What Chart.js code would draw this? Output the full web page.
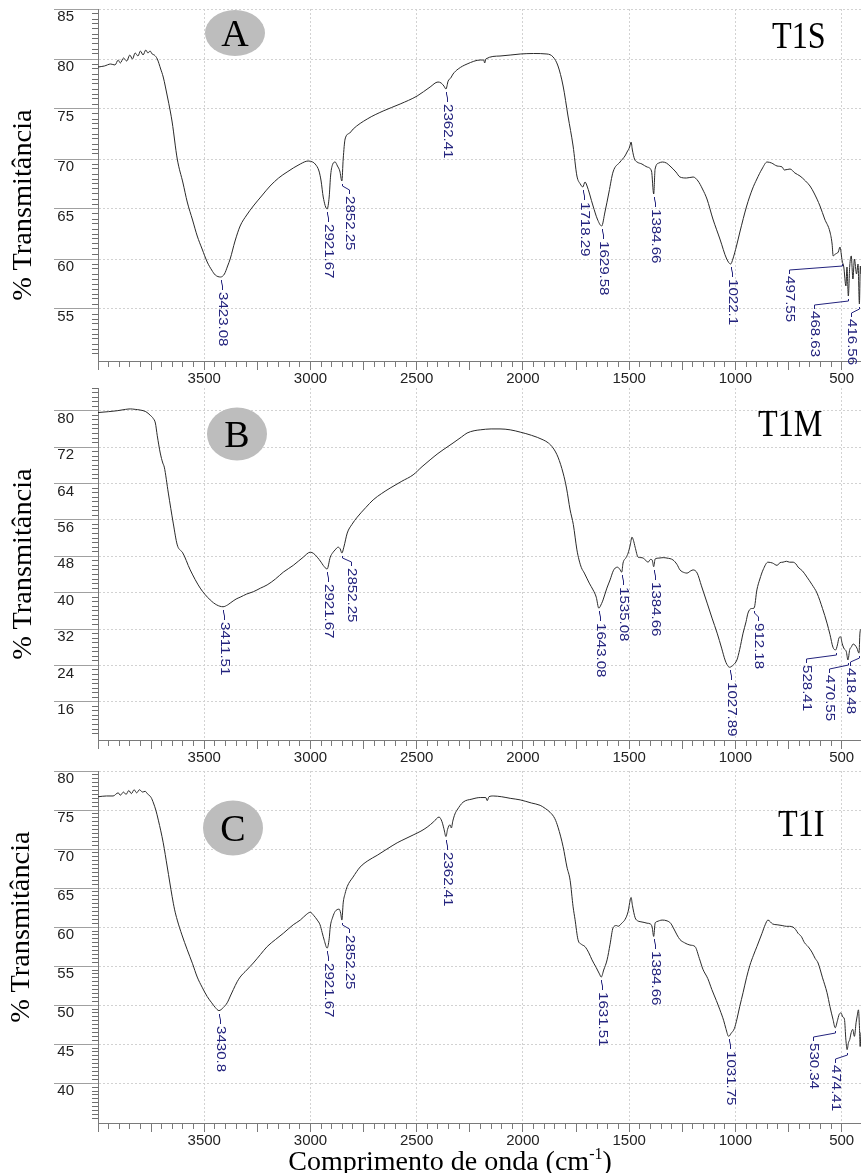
<!DOCTYPE html>
<html>
<head>
<meta charset="utf-8">
<script src="https://cdn.jsdelivr.net/npm/chart.js@4.4.0/dist/chart.umd.min.js"></script>
<style>
html,body{margin:0;padding:0;background:#fff;}
body{width:861px;height:1173px;position:relative;overflow:hidden;}
canvas{position:absolute;left:0;display:block;}
.ytitle{position:absolute;font-family:'Liberation Serif','Times New Roman',serif;font-size:27px;line-height:27px;color:#000;white-space:nowrap;transform:translate(-50%,-50%) rotate(-90deg) scaleX(1.05);}
.badge{position:absolute;width:60px;border-radius:50%;background:#bdbdbd;transform:translate(-50%,-50%);font-family:'Liberation Serif','Times New Roman',serif;font-size:38px;text-align:center;color:#000;}
.tag{position:absolute;font-family:'Liberation Serif','Times New Roman',serif;font-size:37px;line-height:37px;color:#000;white-space:nowrap;transform-origin:0 0;transform:scaleX(0.87);}
.xtitle{position:absolute;left:450px;top:1147px;transform:translateX(-50%);font-family:'Liberation Serif','Times New Roman',serif;font-size:28px;line-height:28px;color:#000;white-space:nowrap;}
.xtitle sup{font-size:16px;line-height:0;vertical-align:11px;}
</style>
</head>
<body>
<canvas id="cA" width="861" height="385" style="top:0px"></canvas>
<canvas id="cB" width="861" height="379" style="top:385px"></canvas>
<canvas id="cC" width="861" height="383" style="top:764px"></canvas>

<div class="ytitle" style="left:22px;top:205px">% Transmitância</div>
<div class="ytitle" style="left:22px;top:564px">% Transmitância</div>
<div class="ytitle" style="left:20px;top:927px">% Transmitância</div>

<div class="badge" style="left:235px;top:33px;height:46px;line-height:46px">A</div>
<div class="badge" style="left:237px;top:434px;height:53px;line-height:53px">B</div>
<div class="badge" style="left:233px;top:828px;height:55px;line-height:55px">C</div>

<div class="tag" style="left:772px;top:17px">T1S</div>
<div class="tag" style="left:758px;top:405px">T1M</div>
<div class="tag" style="left:778px;top:805px">T1I</div>

<div class="xtitle">Comprimento de onda (cm<sup>-1</sup>)</div>

<script>
// ---------------- DATA ----------------
const wnA = [4000,3970,3940,3920,3905,3895,3880,3865,3850,3838,3825,3812,3800,3788,3775,3765,3755,3745,3735,3721,3705,3693,3674,3660,3651,3627,3600,3580,3555,3533,3510,3486,3465,3448,3423.08,3405,3390,3378,3355,3331,3300,3269,3230,3190,3150,3110,3048,3011,2990,2978,2960,2950,2940,2921.67,2912,2905,2895,2884,2873,2862,2852.25,2846,2837,2815,2799,2733,2658,2578,2498,2437,2400,2385,2372,2362.41,2352,2340,2329,2305,2263,2200,2185,2180,2175,2108,2013,1950,1887,1858,1835,1811,1788,1764,1746,1730,1718.29,1708,1700,1670,1650,1629.58,1614,1595,1576,1543,1520,1510,1498,1491,1485,1475,1463,1440,1416,1395,1384.66,1378,1360,1344,1325,1308,1280,1261,1230,1199,1176,1155,1134,1106,1073,1041,1022.1,1012,995,979,947,920,899,875,851,830,804,780,770,743,720,696,670,649,630,602,580,555,545,540,530,516,508,497.55,490,480,475,468.63,462,455,447,440,430,423,416.56,412,409];
const tA  = [79.2,79.3,79.5,79.4,79.9,79.6,80.1,79.8,80.4,80.0,80.6,80.3,80.8,80.4,80.9,80.6,80.8,80.5,80.4,80.0,79.0,78.2,76.3,74.8,73.7,70.0,67.6,65.7,63.9,62.3,61.0,59.7,58.9,58.4,58.2,58.5,59.3,60.0,61.8,63.3,64.4,65.3,66.3,67.3,68.1,68.7,69.5,69.8,69.7,69.5,68.8,67.8,66.2,65.0,66.2,68.4,69.5,69.7,69.3,68.8,67.8,70.0,72.0,72.6,73.0,74.0,74.8,75.5,76.3,77.2,77.7,77.6,77.3,77.0,77.8,78.1,78.5,79.0,79.5,79.9,79.9,79.6,80.0,80.3,80.5,80.55,80.5,80.2,79.3,77.3,74.3,71.3,68.3,67.5,67.2,67.7,67.4,65.3,64.0,63.3,64.7,66.7,68.7,69.7,70.3,70.7,71.2,71.7,70.9,70.0,69.7,69.5,69.2,68.8,66.5,69.0,69.6,69.7,69.6,69.3,68.7,68.2,68.1,68.2,67.8,67.0,66.0,64.0,62.0,60.0,59.5,60.0,61.3,62.7,65.3,67.0,68.0,69.0,69.7,69.6,69.3,69.2,68.9,69.0,68.6,68.3,67.8,67.3,66.6,65.3,64.0,62.7,61.5,60.3,60.5,60.7,61.2,59.8,59.2,57.3,59.2,56.3,59.3,60.3,58.0,60.0,58.5,59.5,55.5,59.3,58.5];

const wnB = [4000,3950,3910,3870,3848,3825,3801,3775,3754,3740,3730,3721,3707,3695,3688,3669,3646,3627,3610,3603,3566,3519,3472,3441,3411.51,3390,3378,3350,3331,3300,3269,3235,3204,3165,3128,3081,3034,3001,2985,2968,2950,2940,2921.67,2907,2895,2884,2870,2860,2852.25,2843,2827,2805,2780,2740,2705,2665,2625,2570,2517,2475,2437,2400,2376,2329,2290,2263,2230,2201,2150,2108,2060,2013,1960,1905,1880,1858,1835,1811,1795,1778,1763,1746,1736,1725,1711,1688,1670,1655,1643.08,1630,1623,1605,1590,1575,1566,1555,1545,1535.08,1529,1515,1505,1495,1487,1480,1472,1458,1445,1434,1420,1411,1400,1392,1384.66,1378,1360,1340,1322,1294,1275,1261,1240,1228,1210,1199,1180,1160,1133,1110,1086,1065,1049,1040,1027.89,1010,993,980,964,950,941,925,912.18,899,885,870,847,825,804,790,776,760,745,729,715,705,685,663,640,616,590,569,555,541,528.41,520,513,505,498,490,478,470.55,462,455,446,438,428,418.48,414,409];
const tB  = [79.6,79.8,80.0,80.3,80.4,80.3,80.15,79.8,79.0,78.3,77.3,74.5,70.7,68.5,67.6,61.9,55.3,50.5,49.2,48.9,45.0,41.0,38.4,37.3,36.9,37.3,37.7,38.6,39.0,39.7,40.2,41.0,41.7,43.0,44.5,46.0,47.8,48.9,48.6,47.8,46.7,46.0,45.2,47.8,48.8,49.4,50.0,49.6,48.7,50.0,53.1,55.0,56.6,58.7,60.4,61.8,63.0,64.5,65.9,67.7,69.2,70.6,71.4,72.9,74.2,75.1,75.6,75.8,76.0,76.0,75.8,75.3,74.6,73.6,72.9,71.8,69.8,66.3,63.0,58.2,55.0,49.4,47.2,45.5,44.3,42.1,40.6,39.0,36.6,37.6,38.4,41.0,42.8,44.8,45.4,45.6,45.2,44.5,46.5,47.7,48.7,50.5,52.2,51.5,50.0,47.8,47.7,47.6,47.0,46.7,47.3,47.2,45.7,47.4,47.6,47.7,47.6,47.2,46.2,45.0,44.4,44.3,44.8,45.0,44.3,41.5,37.7,34.4,31.1,27.8,25.2,24.2,23.6,24.1,25.2,27.5,31.1,33.6,35.5,36.5,36.6,40.6,43.0,45.0,46.7,46.5,46.0,46.6,46.7,46.9,46.7,46.7,46.3,45.6,44.8,43.4,41.8,39.9,36.5,33.3,30.8,28.0,27.4,28.5,30.0,30.3,28.9,27.8,27.0,25.2,27.5,28.0,28.7,28.5,27.8,26.7,31.1,32.0];

const wnC = [4000,3960,3929,3905,3895,3880,3868,3855,3843,3830,3818,3805,3790,3778,3768,3750,3739,3728,3716,3693,3674,3651,3640,3627,3605,3580,3555,3533,3510,3486,3465,3448,3430.8,3410,3392,3375,3363,3345,3331,3300,3269,3235,3204,3165,3128,3081,3048,3020,3001,2985,2968,2955,2945,2935,2921.67,2912,2907,2895,2884,2865,2858,2852.25,2846,2837,2827,2800,2766,2730,2686,2640,2592,2555,2517,2480,2451,2420,2395,2381,2372,2362.41,2355,2348,2343,2337,2330,2320,2310,2282,2240,2201,2175,2168,2160,2140,2100,2060,2013,1960,1919,1895,1872,1850,1835,1811,1793,1778,1764,1755,1741,1725,1708,1690,1675,1655,1640,1631.51,1620,1604,1590,1576,1560,1552,1535,1519,1505,1495,1491,1485,1472,1460,1449,1430,1416,1400,1392,1384.66,1378,1370,1345,1322,1305,1294,1275,1261,1240,1214,1190,1170,1153,1130,1111,1090,1073,1055,1045,1031.75,1020,1005,993,980,964,948,932,915,899,875,860,847,825,804,780,760,745,729,717,705,690,675,658,640,625,611,590,569,555,541,530.34,520,512,503,495,487,480,474.41,468,462,455,448,440,432,427,421,416,413,409];
const tC  = [76.7,76.8,76.8,77.2,76.9,77.3,77.0,77.5,77.1,77.6,77.2,77.6,77.3,77.4,77.1,76.6,75.9,75.0,73.7,70.8,67.7,63.9,62.3,60.9,59.0,57.1,55.3,53.6,52.3,51.1,50.3,49.7,49.3,49.7,50.3,51.3,52.0,53.0,53.6,54.5,55.4,56.5,57.5,58.4,59.2,60.3,60.9,61.6,61.9,61.5,60.9,60.3,59.3,58.3,57.3,58.5,60.0,61.3,62.0,62.3,61.8,60.9,63.1,64.3,65.2,66.4,67.7,68.5,69.2,70.0,70.8,71.3,71.8,72.3,72.8,73.5,74.1,73.5,72.6,71.6,72.5,73.0,73.1,72.7,73.6,74.5,75.0,76.0,76.4,76.6,76.6,76.2,76.7,76.8,76.7,76.5,76.3,75.9,75.6,75.2,74.7,73.9,72.8,70.3,67.7,66.0,62.6,61.0,58.4,57.8,57.5,56.7,55.8,54.8,54.0,53.6,54.5,55.8,57.8,59.9,60.2,60.1,60.5,61.0,62.0,63.5,63.8,62.8,61.2,60.8,60.7,60.6,60.5,60.4,60.0,58.8,60.5,60.7,60.9,60.8,60.5,60.0,59.0,58.4,58.0,57.7,57.5,56.0,54.6,53.4,52.0,50.6,49.4,48.0,47.0,46.0,46.4,47.0,48.2,49.8,51.6,53.5,55.1,56.4,57.5,59.2,60.3,60.9,60.4,60.3,60.2,60.1,60.1,60.0,59.7,59.2,58.8,58.0,57.5,56.8,56.0,55.4,53.5,51.6,49.8,48.2,47.1,48.0,48.8,49.0,48.5,48.2,45.5,44.3,45.2,45.6,46.5,46.9,46.0,47.8,48.6,49.4,47.0,44.7,46.5];

// peak annotations (wavenumbers printed on the chart)
const peaksA = [3423.08,2921.67,2852.25,2362.41,1718.29,1629.58,1384.66,1022.1,497.55,468.63,416.56];
const peaksB = [3411.51,2921.67,2852.25,1643.08,1535.08,1384.66,1027.89,912.18,528.41,470.55,418.48];
const peaksC = [3430.8,2921.67,2852.25,2362.41,1631.51,1384.66,1031.75,530.34,474.41];

// axis ranges / tick steps
const xRange = [409, 4000];
const xMinorStep = 50, xMidStep = 250, xMajorStep = 500;
const yRangeA = [49.8, 85], yStepsA = [0.5, 5];
const yRangeB = [7.6, 85],  yStepsB = [1, 8];
const yRangeC = [34.9, 80], yStepsC = [0.5, 5];

// layout only: horizontal shift (px) of crowded peak labels
const shiftA = [0,0,6,0,0,0,0,0,-54,-35,-9];
const shiftB = [0,0,8,0,0,0,0,3,-31,-20,-10];
const shiftC = [0,0,6,0,0,0,0,-23,-13];

// ---------------- DRAWING ----------------
function onStep(v, s){ const r = v/s; return Math.abs(r - Math.round(r)) < 1e-6; }

function interp(pts, w){
  for (let i = 0; i < pts.length - 1; i++){
    const a = pts[i], b = pts[i+1];
    if ((w <= a.x && w >= b.x) || (w >= a.x && w <= b.x)){
      if (a.x === b.x) return a.y;
      return a.y + (b.y - a.y) * (w - a.x) / (b.x - a.x);
    }
  }
  return pts[pts.length-1].y;
}

const peakPlugin = {
  id: 'peakLabels',
  afterDatasetsDraw(chart, args, opts){
    const {ctx} = chart; const xs = chart.scales.x, ys = chart.scales.y;
    const pts = chart.data.datasets[0].data;
    ctx.save();
    ctx.strokeStyle = '#23237d'; ctx.fillStyle = '#23237d'; ctx.lineWidth = 1;
    ctx.font = '13px "Liberation Sans", Arial, sans-serif';
    opts.values.forEach((w, i) => {
      const t = interp(pts, w);
      const px = Math.round(xs.getPixelForValue(w)) + 0.5;
      const py = Math.round(ys.getPixelForValue(t));
      const tx = Math.round(px + (opts.shifts[i] || 0)) + 0.5;
      ctx.beginPath();
      if (Math.abs(tx - px) < 1){
        ctx.moveTo(px, py + 3); ctx.lineTo(px, py + 13);
      } else {
        ctx.moveTo(px, py + 3); ctx.lineTo(px, py + 5);
        ctx.lineTo(tx, py + 9); ctx.lineTo(tx, py + 13);
      }
      ctx.stroke();
      ctx.save();
      ctx.translate(tx, py + 15);
      ctx.rotate(Math.PI / 2);
      ctx.scale(1.16, 1);
      ctx.textAlign = 'left'; ctx.textBaseline = 'middle';
      ctx.fillText(String(w), 0, 0);
      ctx.restore();
    });
    ctx.restore();
  }
};

function makePanel(id, wn, tr, yRange, ySteps, peaks, shifts, padTop){
  const pts = wn.map((w, i) => ({x: w, y: tr[i]}));
  const [yMinor, yMajor] = ySteps;
  return new Chart(document.getElementById(id), {
    type: 'line',
    data: { datasets: [{ data: pts, borderColor: '#2a2a2a', borderWidth: 1, pointRadius: 0,
      fill: false, cubicInterpolationMode: 'monotone' }] },
    options: {
      responsive: false, animation: false, devicePixelRatio: 1,
      layout: { padding: { top: padTop, left: 0, right: 0, bottom: 0 } },
      plugins: { legend: { display: false }, tooltip: { enabled: false },
        peakLabels: { values: peaks, shifts: shifts } },
      scales: {
        x: {
          type: 'linear', reverse: true, min: xRange[0], max: xRange[1],
          afterFit: s => { s.height = 24; },
          border: { display: true, color: '#7a7a7a', width: 1, dash: [2, 2] },
          grid: {
            tickLength: 9,
            color: c => (onStep(c.tick.value, xMajorStep) && c.tick.value < xRange[1]) ? '#d2d2d2' : 'rgba(0,0,0,0)',
            tickColor: c => onStep(c.tick.value, xMinorStep) ? '#7a7a7a' : 'rgba(0,0,0,0)',
            tickBorderDash: c => onStep(c.tick.value, xMidStep) ? [] : [5, 100]
          },
          ticks: {
            stepSize: xMinorStep, autoSkip: false, maxRotation: 0, minRotation: 0, padding: 0,
            color: '#222', font: { family: '"Liberation Sans", Arial, sans-serif', size: 15 },
            callback: v => (onStep(v, xMajorStep) && v < xRange[1]) ? String(v) : ''
          }
        },
        y: {
          type: 'linear', min: yRange[0], max: yRange[1],
          afterFit: s => { s.width = 98; },
          border: { display: true, color: '#7a7a7a', width: 1, dash: [2, 2] },
          grid: {
            tickLength: 44,
            color: c => (onStep(c.tick.value, yMajor) && c.tick.value > yRange[0]) ? '#d2d2d2' : 'rgba(0,0,0,0)',
            tickColor: c => !onStep(c.tick.value, yMinor) ? 'rgba(0,0,0,0)' :
              (onStep(c.tick.value, yMajor) && c.tick.value > yRange[0]) ? '#a0a0a0' : '#6e6e6e',
            tickBorderDash: c => (onStep(c.tick.value, yMajor) && c.tick.value > yRange[0]) ? [] : [0, 38, 6, 100]
          },
          ticks: {
            stepSize: yMinor, autoSkip: false, padding: -20, labelOffset: 8,
            color: '#222', font: { family: '"Liberation Sans", Arial, sans-serif', size: 15 },
            callback: v => (onStep(v, yMajor) && v > yRange[0]) ? String(v) : ''
          }
        }
      }
    },
    plugins: [peakPlugin]
  });
}

makePanel('cA', wnA, tA, yRangeA, yStepsA, peaksA, shiftA, 9);
makePanel('cB', wnB, tB, yRangeB, yStepsB, peaksB, shiftB, 3);
makePanel('cC', wnC, tC, yRangeC, yStepsC, peaksC, shiftC, 7);
</script>
</body>
</html>
